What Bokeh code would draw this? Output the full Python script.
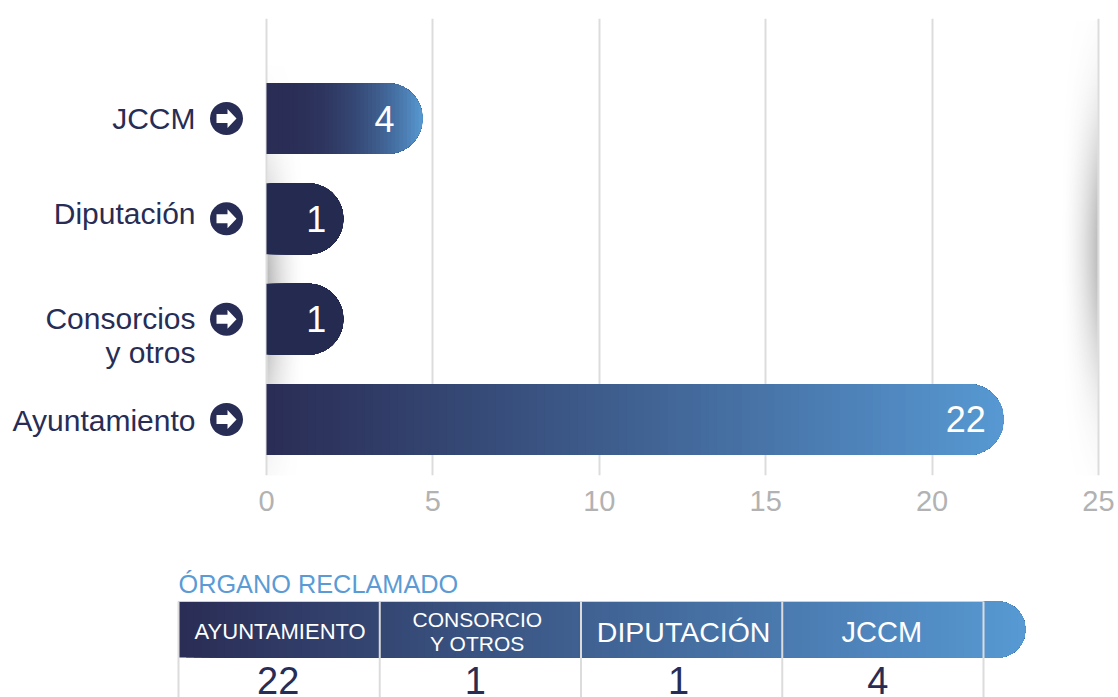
from bokeh.plotting import figure
from bokeh.layouts import column
from bokeh.models import ColumnDataSource, FixedTicker, Range1d
from bokeh.core.properties import value
from bokeh.embed import file_html
from bokeh.resources import INLINE
import numpy as np

# ---- data
categories = ["Ayuntamiento", "Consorcios\ny otros", "Diputación", "JCCM"]
bar_values = [22, 1, 1, 4]                 # printed on the bars
bar_ends = [22.15, 2.31, 2.31, 4.69]       # where the bars end on the axis
x_ticks = [0, 5, 10, 15, 20, 25]
table_title = "ÓRGANO RECLAMADO"
table_heads = ["AYUNTAMIENTO", "CONSORCIO\nY OTROS", "DIPUTACIÓN", "JCCM"]
table_values = [22, 1, 1, 4]

DARK = "#272d55"
FONT = value("Liberation Sans")
W = 1118
PX = 33.28      # pixels per axis unit
ROW = 100.3     # pixels per category
C0 = np.array([0x2a, 0x2d, 0x55], float)
C1 = np.array([0x57, 0x99, 0xd3], float)


def hexcol(t, c0=C0, c1=C1):
    c = c0 + (c1 - c0) * t
    return "#%02x%02x%02x" % tuple(int(round(v)) for v in c)


def slice_shape(x0, end, yc, rx, ry):
    """Bar shape from x0 to the tip of the rounded end."""
    xs = np.concatenate([[x0], np.linspace(max(x0, end - rx), end, 26)])
    s = np.clip((xs - (end - rx)) / rx, 0, 1)
    h = ry * np.sqrt(1 - s ** 2)
    return list(np.r_[xs, xs[::-1]]), list(np.r_[yc + h, (yc - h)[::-1]])


# ---- chart
p = figure(width=W, height=530, output_backend="svg", toolbar_location=None,
           x_range=Range1d(-266 / PX, (1118 - 266) / PX),
           y_range=Range1d(-(475 - 419) / ROW, 3 + (118 - 18) / ROW),
           min_border_left=0, min_border_right=0, min_border_top=18, min_border_bottom=55,
           outline_line_color=None, background_fill_color="white", border_fill_color="white")
p.yaxis.visible = False
p.ygrid.visible = False
p.xgrid.ticker = FixedTicker(ticks=x_ticks)
p.xgrid.grid_line_color = "#dcdcdc"
p.xgrid.grid_line_width = 2
ax = p.xaxis[0]
ax.ticker = FixedTicker(ticks=x_ticks)
ax.axis_line_color = None
ax.major_tick_line_color = None
ax.minor_tick_line_color = None
ax.major_label_text_color = "#b2b2b2"
ax.major_label_text_font = "Liberation Sans"
ax.major_label_text_font_size = "29px"
ax.major_label_standoff = 9

# soft shadows next to the 0 and 25 lines
yy, xx = np.mgrid[0:230, 0:40]
a0 = 0.42 * (1 - xx / 40) ** 2 * np.exp(-((yy - 115) / 60.0) ** 2)
img0 = np.zeros(a0.shape, dtype=np.uint32)
view = img0.view(np.uint8).reshape(a0.shape + (4,))
view[..., :3] = 90
view[..., 3] = (a0 * 255).astype(np.uint8)
p.image_rgba(image=[img0], x=[1 / PX], y=[(419 - 525) / ROW], dw=[40 / PX], dh=[460 / ROW])
a1 = 0.42 * (xx / 40) ** 2 * np.exp(-((yy - 115) / 65.0) ** 2)
img1 = np.zeros(a1.shape, dtype=np.uint32)
view = img1.view(np.uint8).reshape(a1.shape + (4,))
view[..., :3] = 90
view[..., 3] = (a1 * 255).astype(np.uint8)
p.image_rgba(image=[img1], x=[25 - 41 / PX], y=[(419 - 480) / ROW], dw=[40 / PX], dh=[460 / ROW])

# gradient bars: painted left to right, every slice runs on to the rounded tip
RX = 35.5 / PX
RY = 35.5 / ROW
tip_t = [1.0, 0.0, 0.0, 1.0]
powers = [1.05, 1.0, 1.0, 2.4]
ends_c0 = [C0, np.array([0x25, 0x2b, 0x50], float), np.array([0x25, 0x2b, 0x50], float), C0]
bx, by, bc = [], [], []
for i, end in enumerate(bar_ends):
    n = 90 if end > 10 else 40
    for k in range(n):
        f = k / n
        sx, sy = slice_shape(end * f, end, i, RX, RY)
        bx.append(sx)
        by.append(sy)
        bc.append(hexcol(tip_t[i] * (f + 0.5 / n) ** powers[i], c0=ends_c0[i]))
p.patches(xs=bx, ys=by, fill_color=bc, line_color=None)

# category labels
lab = ColumnDataSource(dict(x=[0] * 4, y=list(range(4)), t=categories, dy=[-15, -17, -22, -17]))
p.text(x="x", y="y", text="t", source=lab, x_offset=-71, y_offset="dy", text_align="right",
       text_baseline="top", text_color=DARK, text_font=FONT, text_font_size="30px", text_line_height=1.03)

# arrow bullets
p.scatter(x=[-40 / PX] * 4, y=list(range(4)), size=33, marker="circle", fill_color=DARK, line_color=None)
ax_px = np.array([-10, 1, 1, 10, 1, 1, -10], float)
ay_px = np.array([4.5, 4.5, 9.5, 0, -9.5, -4.5, -4.5])
p.patches(xs=[list((-40 + ax_px) / PX)] * 4, ys=[list(i + ay_px / ROW) for i in range(4)],
          fill_color="white", line_color=None)

# values on the bars
val = ColumnDataSource(dict(x=bar_ends, y=list(range(4)), t=[str(v) for v in bar_values], dx=[-38, -27, -27, -38]))
p.text(x="x", y="y", text="t", source=val, x_offset="dx", text_align="center", text_baseline="middle",
       text_color="white", text_font=FONT, text_font_size="36px")

# ---- table
CW = 201.25
RH = 54.0
t = figure(width=W, height=167, output_backend="svg", toolbar_location=None,
           x_range=Range1d(-178 / CW, (1118 - 178) / CW),
           y_range=Range1d((683 - 697) / RH, (683 - 530) / RH),
           min_border=0, outline_line_color=None, background_fill_color="white", border_fill_color="white")
t.axis.visible = False
t.grid.visible = False

t.text(x=[0], y=[(683 - 583) / RH], text=[table_title], text_align="left", text_baseline="middle",
       text_color="#5b9bd5", text_font=FONT, text_font_size="25.3px")

head_end = 4 + 42 / CW
hx, hy, hc = [], [], []
n = 110
for k in range(n):
    f = k / n
    sx, sy = slice_shape(head_end * f, head_end, (683 - 629) / RH, 28 / CW, 28 / RH)
    hx.append(sx)
    hy.append(sy)
    hc.append(hexcol(f + 0.5 / n))
t.patches(xs=hx, ys=hy, fill_color=hc, line_color=None)

t.segment(x0=[0], x1=[4], y0=[(683 - 601) / RH], y1=[(683 - 601) / RH], line_color="#cfcfcf", line_width=1)
t.segment(x0=list(range(5)), x1=list(range(5)), y0=[(683 - 601) / RH] * 5, y1=[(683 - 700) / RH] * 5,
          line_color="#dcdcdc", line_width=2)

centers = [0.5, 1.5, 2.5, 3.5]
head_sizes = ["22px", "21px", "28.5px", "29px"]
head_dx = [1, -3, 2, -1]
for i, h in enumerate(table_heads):
    t.text(x=[centers[i]], y=[(683 - 631) / RH], text=[h], x_offset=[head_dx[i]], text_align="center",
           text_baseline="middle", text_color="white", text_font=FONT, text_font_size=head_sizes[i],
           text_line_height=1.03)
val_dx = [-1, -5, -3, -5]
t.text(x=centers, y=[(683 - 680) / RH] * 4, text=[str(v) for v in table_values], x_offset=val_dx, text_align="center",
       text_baseline="middle", text_color=DARK, text_font=FONT, text_font_size="38px")

layout = column(p, t, spacing=0)
open("out.html", "w").write(file_html(layout, INLINE))
